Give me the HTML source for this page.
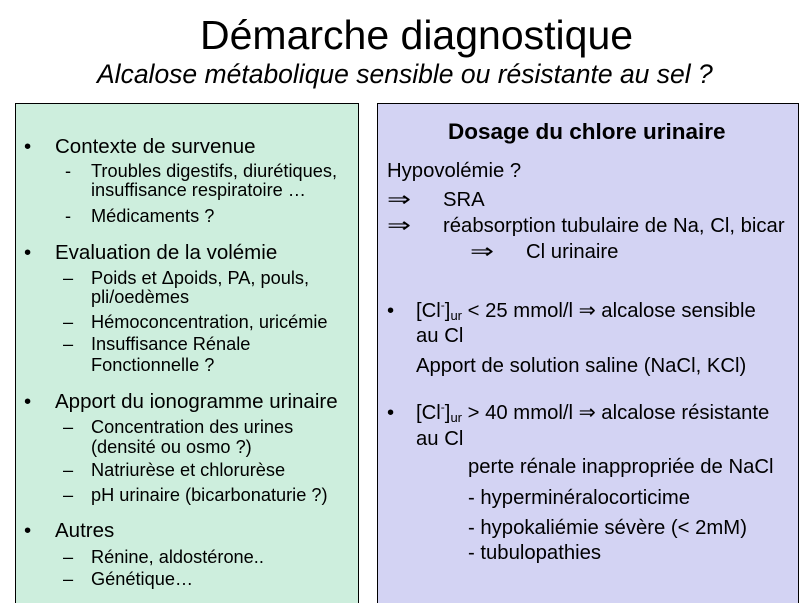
<!DOCTYPE html>
<html><head><meta charset="utf-8"><style>
html,body{margin:0;width:805px;height:603px;overflow:hidden}
body{background:#fff;position:relative;font-family:"Liberation Sans",Arial,sans-serif;color:#000}
div{position:absolute;white-space:nowrap;line-height:1}
.box{border:1px solid #000}
.b{font-size:20.5px}
.s{font-size:18.2px}
.r{font-size:20.3px}
.a{transform:scaleX(1.4);transform-origin:left center}
sup{font-size:12px;vertical-align:8px;line-height:0}
sub{font-size:13px;vertical-align:-3px;line-height:0}
</style></head><body>
<div style="left:200px;top:15px;font-size:41px">Démarche diagnostique</div>
<div style="left:97px;top:61px;font-size:26.5px;font-style:italic">Alcalose métabolique sensible ou résistante au sel ?</div>

<div class="box" style="left:15px;top:103px;width:342px;height:520px;background:#cdeedd"></div>
<div class="box" style="left:377px;top:103px;width:420px;height:520px;background:#d3d3f3"></div>

<!-- left -->
<div class="b" style="left:24px;top:137px">•</div><div class="b" style="left:55px;top:137px">Contexte de survenue</div>
<div class="s" style="left:65px;top:162px">-</div><div class="s" style="left:91px;top:162px">Troubles digestifs, diurétiques,</div>
<div class="s" style="left:91px;top:181px">insuffisance respiratoire …</div>
<div class="s" style="left:65px;top:207px">-</div><div class="s" style="left:91px;top:207px">Médicaments ?</div>
<div class="b" style="left:24px;top:243px">•</div><div class="b" style="left:55px;top:243px">Evaluation de la volémie</div>
<div class="s" style="left:63px;top:269px">–</div><div class="s" style="left:91px;top:269px">Poids et Δpoids, PA, pouls,</div>
<div class="s" style="left:91px;top:288px">pli/oedèmes</div>
<div class="s" style="left:63px;top:313px">–</div><div class="s" style="left:91px;top:313px">Hémoconcentration, uricémie</div>
<div class="s" style="left:63px;top:335px">–</div><div class="s" style="left:91px;top:335px">Insuffisance Rénale</div>
<div class="s" style="left:91px;top:356px">Fonctionnelle ?</div>
<div class="b" style="left:24px;top:392px">•</div><div class="b" style="left:55px;top:392px">Apport du ionogramme urinaire</div>
<div class="s" style="left:63px;top:418px">–</div><div class="s" style="left:91px;top:418px">Concentration des urines</div>
<div class="s" style="left:91px;top:438px">(densité ou osmo ?)</div>
<div class="s" style="left:63px;top:461px">–</div><div class="s" style="left:91px;top:461px">Natriurèse et chlorurèse</div>
<div class="s" style="left:63px;top:486px">–</div><div class="s" style="left:91px;top:486px">pH urinaire (bicarbonaturie ?)</div>
<div class="b" style="left:24px;top:521px">•</div><div class="b" style="left:55px;top:521px">Autres</div>
<div class="s" style="left:63px;top:548px">–</div><div class="s" style="left:91px;top:548px">Rénine, aldostérone..</div>
<div class="s" style="left:63px;top:570px">–</div><div class="s" style="left:91px;top:570px">Génétique…</div>

<!-- right -->
<div style="left:448px;top:121px;font-size:22.5px;font-weight:bold">Dosage du chlore urinaire</div>
<div class="r" style="left:387px;top:161px">Hypovolémie ?</div>
<div class="r a" style="left:387px;top:190px">⇒</div><div class="r" style="left:443px;top:190px">SRA</div>
<div class="r a" style="left:387px;top:216px">⇒</div><div class="r" style="left:443px;top:216px">réabsorption tubulaire de Na, Cl, bicar</div>
<div class="r a" style="left:470px;top:242px">⇒</div><div class="r" style="left:526px;top:242px">Cl urinaire</div>
<div class="r" style="left:387px;top:301px">•</div><div class="r" style="left:416px;top:301px">[Cl<sup>-</sup>]<sub>ur</sub> &lt; 25 mmol/l ⇒ alcalose sensible</div>
<div class="r" style="left:416px;top:326px">au Cl</div>
<div class="r" style="left:416px;top:356px">Apport de solution saline (NaCl, KCl)</div>
<div class="r" style="left:387px;top:403px">•</div><div class="r" style="left:416px;top:403px">[Cl<sup>-</sup>]<sub>ur</sub> &gt; 40 mmol/l ⇒ alcalose résistante</div>
<div class="r" style="left:416px;top:429px">au Cl</div>
<div class="r" style="left:468px;top:457px">perte rénale inappropriée de NaCl</div>
<div class="r" style="left:468px;top:488px">- hyperminéralocorticime</div>
<div class="r" style="left:468px;top:518px">- hypokaliémie sévère (&lt; 2mM)</div>
<div class="r" style="left:468px;top:543px">- tubulopathies</div>
</body></html>
